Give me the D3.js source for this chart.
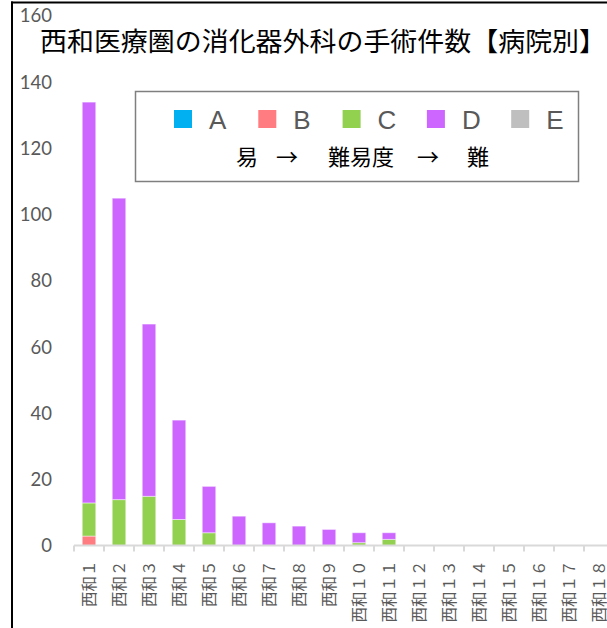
<!DOCTYPE html>
<html><head><meta charset="utf-8">
<script src="https://cdn.jsdelivr.net/npm/d3@7/dist/d3.min.js"></script>
<style>body{margin:0;background:#fff}svg{display:block}</style>
</head><body>
<script>
const title = "西和医療圏の消化器外科の手術件数【病院別】";
const categories = ["西和１","西和２","西和３","西和４","西和５","西和６","西和７","西和８","西和９","西和１０","西和１１","西和１２","西和１３","西和１４","西和１５","西和１６","西和１７","西和１８"];
const seriesNames = ["A","B","C","D","E"];
const seriesColors = ["#00b0f0","#ff7c80","#92d050","#cc66ff","#bfbfbf"];
const valuesA = [0,0,0,0,0,0,0,0,0,0,0,0,0,0,0,0,0,0];
const valuesB = [3,0,0,0,0,0,0,0,0,0,0,0,0,0,0,0,0,0];
const valuesC = [10,14,15,8,4,0,0,0,0,1,2,0,0,0,0,0,0,0];
const valuesD = [121,91,52,30,14,9,7,6,5,3,2,0,0,0,0,0,0,0];
const valuesE = [0,0,0,0,0,0,0,0,0,0,0,0,0,0,0,0,0,0];
const yTicks = [0,20,40,60,80,100,120,140,160];
const legendNote = ["易","→","難易度","→","難"];

const W = 607, H = 628;
const svg = d3.select("body").append("svg").attr("width", W).attr("height", H);

const seriesVals = [valuesA, valuesB, valuesC, valuesD, valuesE];
const rows = categories.map((c, i) => {
  const r = {cat: c};
  seriesNames.forEach((s, k) => r[s] = seriesVals[k][i]);
  return r;
});
const stack = d3.stack().keys(seriesNames)(rows);

const x = d3.scaleBand().domain(categories).range([74, 614]).paddingInner(0.55).paddingOuter(0.275);
const y = d3.scaleLinear().domain([0, 160]).range([546, 16]);

// bars
svg.append("g").selectAll("g").data(stack).join("g")
  .attr("fill", (d, i) => seriesColors[i])
  .selectAll("rect").data(d => d.filter(p => p[1] - p[0] > 0)).join("rect")
  .attr("x", d => x(d.data.cat))
  .attr("width", x.bandwidth())
  .attr("y", d => y(d[1]))
  .attr("height", d => y(d[0]) - y(d[1]))
  .attr("stroke", "#ffffff").attr("stroke-opacity", 0.45).attr("stroke-width", 1);

// y axis labels
const yAxis = d3.axisLeft(y).tickValues(yTicks).tickSize(0).tickPadding(0);
const gy = svg.append("g").attr("transform", "translate(52,0)").call(yAxis);
gy.select(".domain").remove();
gy.selectAll("text").attr("fill", "#595959").style("font-family", "Lato, 'Open Sans', sans-serif").style("font-size", "18.5px");

// x axis
const band = x.step();
const xAxisScale = d3.scaleLinear().domain([0, categories.length]).range([74, 74 + band * categories.length]);
const gx = svg.append("g").attr("transform", "translate(0,545.5)");
gx.append("line").attr("x1", 74).attr("x2", W).attr("stroke", "#d9d9d9").attr("stroke-width", 2);
gx.selectAll("line.tk").data(d3.range(categories.length + 1)).join("line").attr("class", "tk")
  .attr("x1", d => xAxisScale(d)).attr("x2", d => xAxisScale(d))
  .attr("y1", 0).attr("y2", 6).attr("stroke", "#d9d9d9").attr("stroke-width", 2);
gx.selectAll("text").data(categories).join("text")
  .attr("transform", d => `translate(${x(d) + x.bandwidth() / 2 + 6},15) rotate(-90)`)
  .attr("text-anchor", "end")
  .attr("fill", "#595959")
  .style("font-family", "'Noto Sans CJK JP', sans-serif")
  .style("font-size", "15.5px")
  .text(d => d);

// title
svg.append("text").attr("x", 40).attr("y", 51)
  .attr("fill", "#000")
  .style("font-family", "'Noto Sans CJK JP', sans-serif")
  .style("font-size", "26px")
  .attr("textLength", 566).attr("lengthAdjust", "spacingAndGlyphs")
  .text(title);

// legend
const lg = svg.append("g");
lg.append("rect").attr("x", 135.5).attr("y", 91.5).attr("width", 443).attr("height", 90)
  .attr("fill", "#fff").attr("stroke", "#7f7f7f").attr("stroke-width", 1.5);
const items = lg.selectAll("g.it").data(seriesNames).join("g").attr("class", "it")
  .attr("transform", (d, i) => `translate(${174 + i * 84.3},110)`);
items.append("rect").attr("width", 18).attr("height", 18).attr("fill", (d, i) => seriesColors[i]);
items.append("text").attr("x", 35).attr("y", 19)
  .attr("fill", "#595959")
  .style("font-family", "'Liberation Sans', Arial, sans-serif")
  .style("font-size", "26px")
  .text(d => d);
const noteX = [247, 287, 361, 428, 478];
lg.selectAll("text.note").data(legendNote).join("text").attr("class", "note")
  .attr("x", (d, i) => noteX[i]).attr("y", 165).attr("text-anchor", "middle")
  .attr("fill", "#000")
  .style("font-family", "'Noto Sans CJK JP', sans-serif")
  .style("font-size", "22px")
  .text(d => d);

// outer border (left and top)
svg.append("line").attr("x1", 12).attr("x2", 12).attr("y1", 1.5).attr("y2", H).attr("stroke", "#000").attr("stroke-width", 2);
svg.append("line").attr("x1", 11).attr("x2", W).attr("y1", 2.5).attr("y2", 2.5).attr("stroke", "#000").attr("stroke-width", 2);
</script>
</body></html>
